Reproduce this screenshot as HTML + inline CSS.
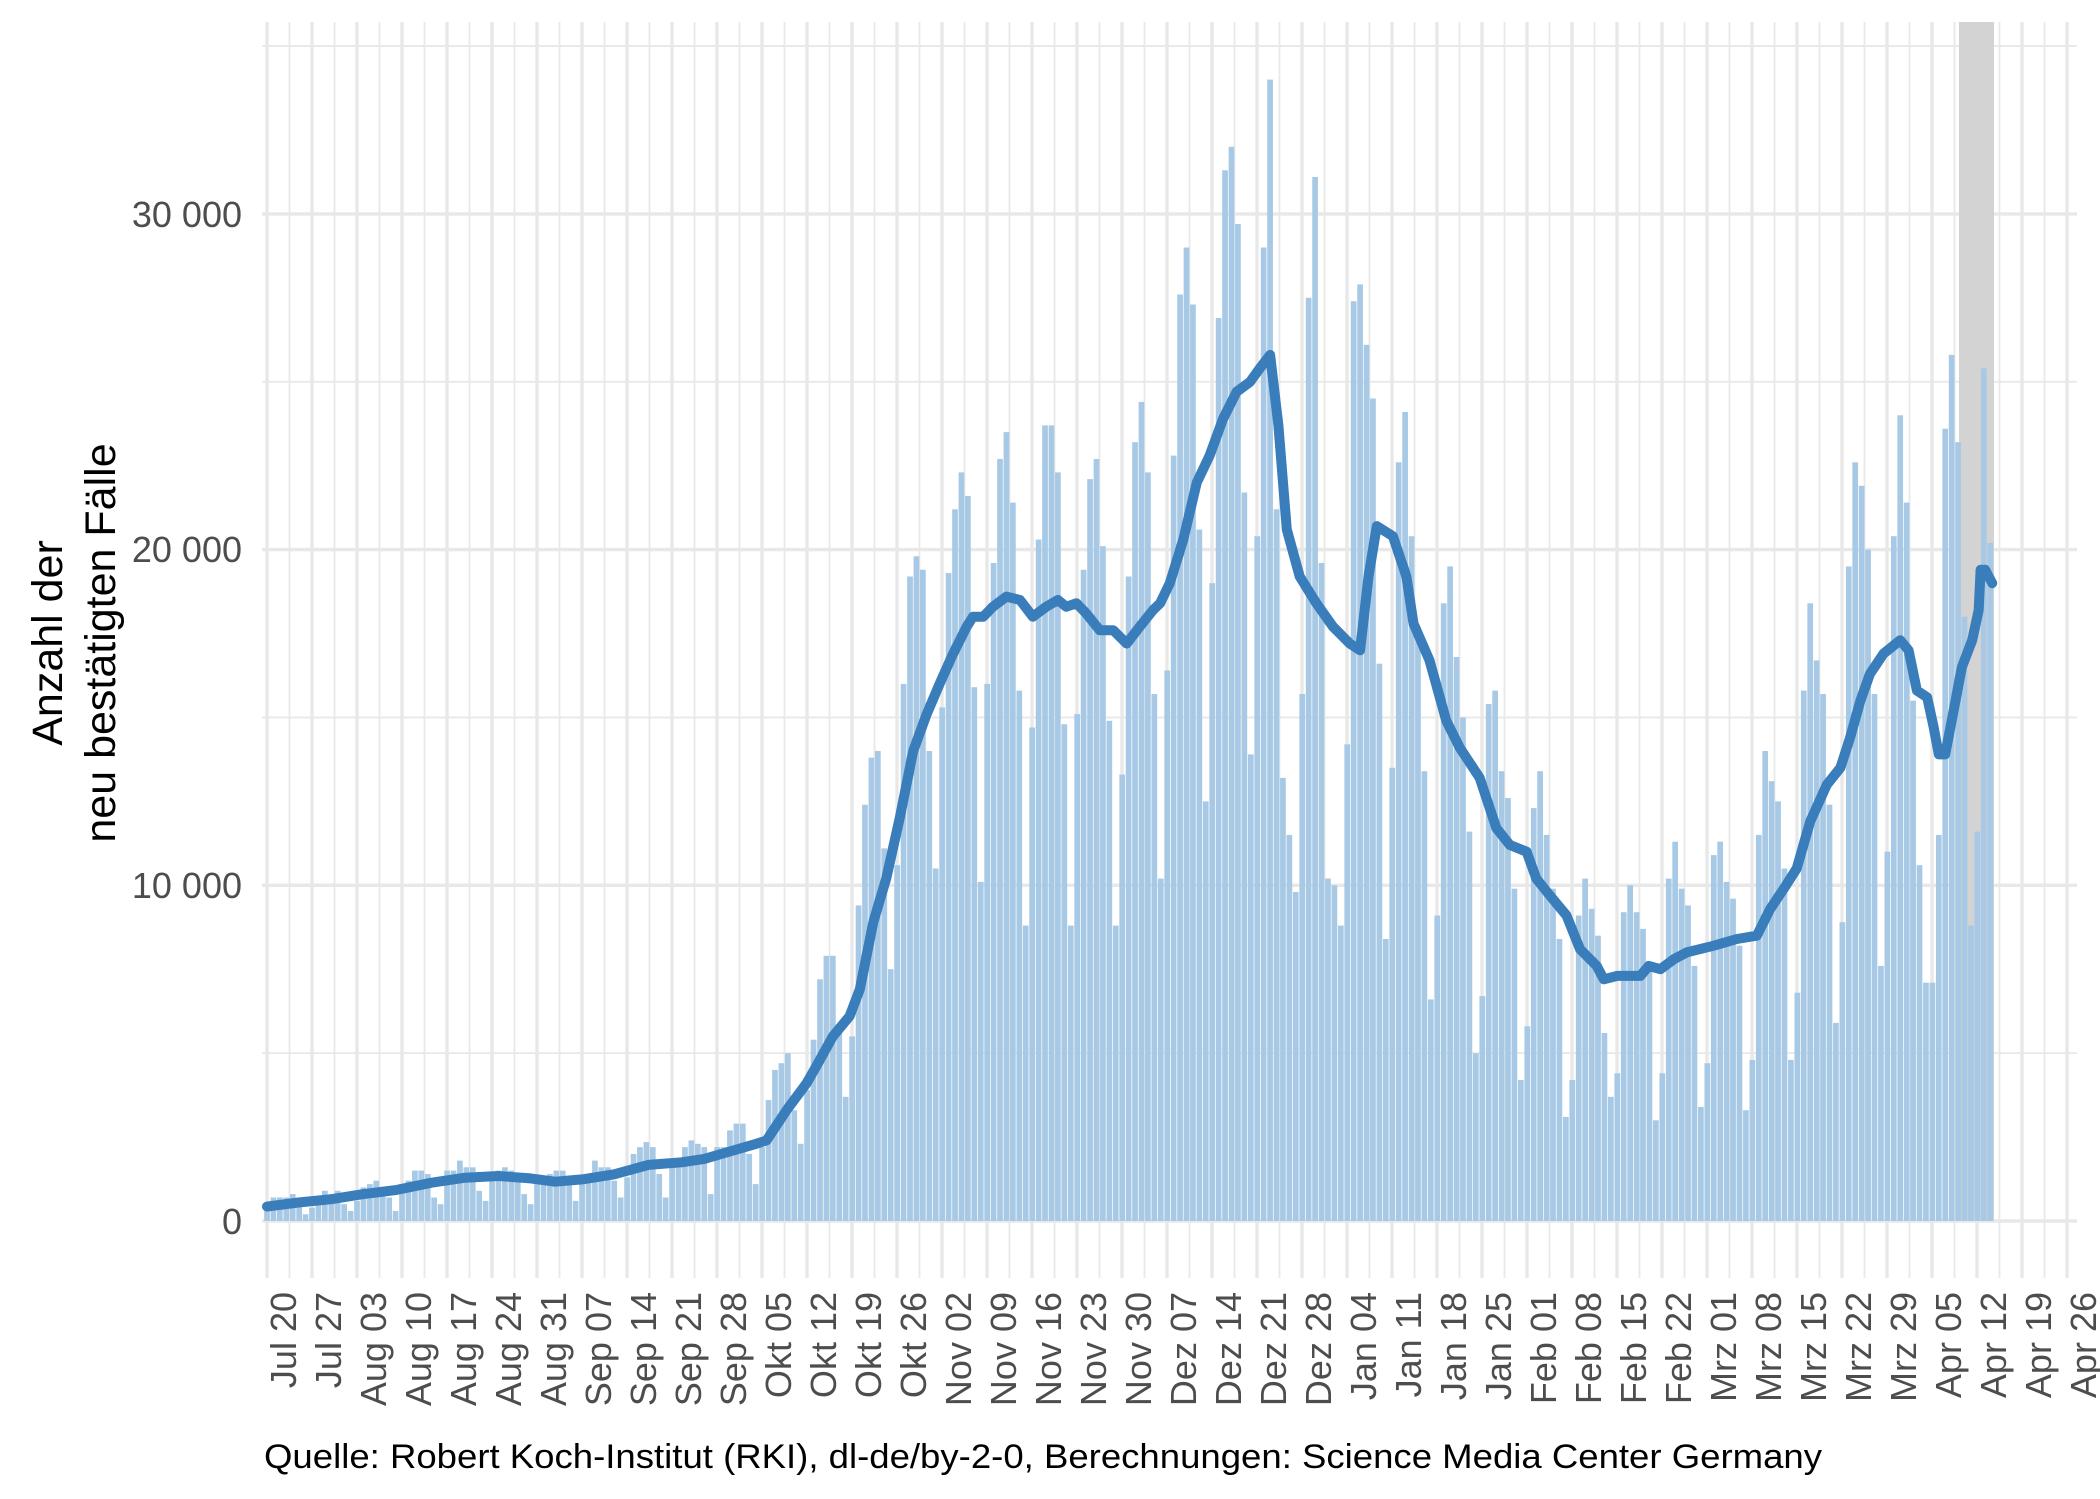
<!DOCTYPE html>
<html><head><meta charset="utf-8"><style>
html,body{margin:0;padding:0;background:#fff;}
svg{display:block;}
</style></head><body>
<svg id="s" xmlns="http://www.w3.org/2000/svg" width="2100" height="1499" viewBox="0 0 2100 1499">
<rect x="0" y="0" width="2100" height="1499" fill="#fff"/>
<g id="grid"></g>
<rect x="1959" y="22" width="35" height="1199" fill="#d3d3d3"/>
<g id="bars" fill="#a7c9e5"></g>
<path id="ln" fill="none" stroke="#3a7dbb" stroke-width="10" stroke-linejoin="round" stroke-linecap="round"/>
<g font-family="Liberation Sans, sans-serif" font-size="36" fill="#4d4d4d" text-anchor="end">
<text x="242" y="1234">0</text>
<text x="242" y="898">10 000</text>
<text x="242" y="562">20 000</text>
<text x="242" y="227">30 000</text>
</g>
<g id="xl" font-family="Liberation Sans, sans-serif" font-size="36" fill="#4d4d4d" text-anchor="end"></g>
<g font-family="Liberation Sans, sans-serif" font-size="43" fill="#000" text-anchor="middle">
<text transform="translate(62,643) rotate(-90)">Anzahl der</text>
<text transform="translate(115,643) rotate(-90)">neu bestätigten Fälle</text>
</g>
<text x="264" y="1468" font-family="Liberation Sans, sans-serif" font-size="34" fill="#000" textLength="1558" lengthAdjust="spacingAndGlyphs">Quelle: Robert Koch-Institut (RKI), dl-de/by-2-0, Berechnungen: Science Media Center Germany</text>
</svg>
<script>
var NS="http://www.w3.org/2000/svg";
function el(t,a,p){var e=document.createElementNS(NS,t);for(var k in a)e.setAttribute(k,a[k]);p.appendChild(e);return e;}
var X0=267,DX=6.43,Y0=1221,SY=33.57;
function X(d){return X0+d*DX;} function Y(v){return Y0-v*SY;}
var g=document.getElementById('grid');
for(var i=0;i<=7;i++){var v=i*5;var maj=(i%2==0);
 el('line',{x1:262,x2:2077,y1:Y(v),y2:Y(v),stroke:'#e8e8e8','stroke-width':maj?3.4:1.8},g);}
for(var k=0;k<=40;k++){var x=X0+45*k;
 el('line',{x1:x,x2:x,y1:22,y2:1278,stroke:'#e8e8e8','stroke-width':3.4},g);
 if(k<40) el('line',{x1:x+22.5,x2:x+22.5,y1:22,y2:1278,stroke:'#e8e8e8','stroke-width':1.8},g);}
var vals=[0.3,0.7,0.7,0.7,0.8,0.5,0.2, 0.4,0.5,0.9,0.8,0.9,0.5,0.3, 0.6,1.0,1.1,1.2,1.0,0.7,0.3, 1.1,1.2,1.5,1.5,1.4,0.7,0.5, 1.5,1.5,1.8,1.6,1.6,0.9,0.6, 1.3,1.5,1.6,1.5,1.3,0.8,0.5, 1.3,1.3,1.4,1.5,1.5,1.2,0.6, 1.3,1.4,1.8,1.6,1.6,1.2,0.7, 1.3,2.0,2.2,2.35,2.2,1.4,0.7, 1.7,1.6,2.2,2.4,2.3,
2.2,0.8,2.2,2.2,2.7,2.9,2.9,2.0,1.1,2.2,3.6,4.5,4.7,5.0,3.3,2.3,3.9,5.4,7.2,7.9,7.9,5.7,3.7,5.5,9.4,12.4,13.8,14.0,11.1,7.5,10.6,16.0,19.2,19.8,19.4,14.0,10.5,15.3,19.3,21.2,22.3,21.6,15.9,10.1,16.0,19.6,22.7,23.5,21.4,15.8,8.8,14.7,20.3,23.7,23.7,22.3,14.8,8.8,15.1,19.4,22.1,22.7,20.1,14.9,8.8,13.3,19.2,23.2,24.4,22.3,
15.7,10.2,16.4,22.8,27.6,29.0,27.3,20.6,12.5,19.0,26.9,31.3,32.0,29.7,21.7,13.9,20.4,29.0,34.0,21.2,13.2,11.5,9.8,15.7,27.5,31.1,19.6,10.2,10.0,8.8,14.2,27.4,27.9,26.1,24.5,16.6,8.4,13.5,22.6,24.1,20.4,17.7,13.4,6.6,9.1,18.4,19.5,16.8,15.0,11.6,5.0,6.7,15.4,15.8,13.4,12.6,9.9,4.2,5.8,12.3,13.4,11.5,9.9,8.4,3.1,4.2,9.1,10.2,9.3,8.5,
5.6,3.7,4.4,9.2,10.0,9.2,8.7,7.7,3.0,4.4,10.2,11.3,9.9,9.4,7.6,3.4,4.7,10.9,11.3,10.1,9.6,8.2,3.3,4.8,11.5,14.0,13.1,12.5,10.5,4.8,6.8,15.8,18.4,16.7,15.7,12.4,5.9,8.9,19.5,22.6,21.9,20.0,15.7,7.6,11.0,20.4,24.0,21.4,15.5,10.6,7.1,7.1,11.5,23.6,25.8,23.2,18.0,8.8,11.6,25.4,20.2];
var b=document.getElementById('bars');
for(var d=0;d<vals.length;d++){var y=Y(vals[d]);
 el('rect',{x:(X(d)-2.85).toFixed(2),y:y.toFixed(1),width:5.7,height:(Y0-y).toFixed(1)},b);}
var L=[[0,0.43],[4.9,0.55],[10,0.65],[15,0.8],[20,0.92],[25.6,1.14],[30.8,1.29],[36,1.34],[41,1.27],[44.8,1.17],[49,1.24],[54,1.39],[59.3,1.67],[64.5,1.75],[68,1.85],
[72.5,2.1],[76.1,2.3],[77.7,2.4],[80.8,3.3],[83.9,4.1],[85.4,4.6],[88,5.5],[90.6,6.1],[92.2,6.9],[94.3,8.9],[96.3,10.2],[98.4,12.0],[100.5,14.0],[102.6,15.1],[104.6,16.0],[106.7,16.9],[108.8,17.7],[109.8,18.0],[111.4,18.0],[112.9,18.3],[115,18.6],[117.1,18.5],[119.1,18.0],[121.2,18.3],[123,18.5],[124.3,18.3],[125.9,18.4],[127.4,18.1],[129.5,17.6],[131.6,17.6],[133.7,17.2],[135.7,17.7],[137.8,18.2],
[138.9,18.4],[140.4,19.0],[142.5,20.3],[144.6,22.0],[146.6,22.8],[148.7,23.9],[150.8,24.7],[152.9,25.0],[154.4,25.4],[156,25.8],[157.3,23.7],[158.6,20.6],[160.6,19.2],[163.2,18.4],[165.8,17.7],[168.4,17.2],[170,17.0],[171.3,19.2],[172.6,20.7],[175.1,20.4],[177.2,19.2],[178.3,17.8],[180.8,16.7],[183.4,14.9],[185.5,14.1],[188.6,13.2],[191.2,11.7],[193.3,11.2],[195.9,11.0],[197.4,10.2],[199.5,9.7],[202.1,9.1],[204.2,8.1],[206.8,7.6],
[207.9,7.2],[210,7.3],[213.6,7.3],[214.9,7.6],[216.7,7.5],[218.8,7.8],[220.8,8.0],[225,8.2],[228.6,8.4],[231.7,8.5],[233.8,9.3],[235.9,9.9],[237.9,10.5],[240,11.9],[242.6,13.0],[244.7,13.5],[246.2,14.4],[247.8,15.5],[249.3,16.3],[251.4,16.9],[254,17.3],[255.3,17.0],[256.6,15.8],[258.2,15.6],[259.2,14.7],[260,13.9],[261,13.9],[262.3,15.2],[263.6,16.5],[265.2,17.3],[266.2,18.2],[266.5,19.4],[267.2,19.4],[268.3,19.0]];
var p='';for(var i=0;i<L.length;i++){p+=(i?'L':'M')+X(L[i][0]).toFixed(1)+','+Y(L[i][1]).toFixed(1);}
document.getElementById('ln').setAttribute('d',p);
var labs=['Jul 20','Jul 27','Aug 03','Aug 10','Aug 17','Aug 24','Aug 31','Sep 07','Sep 14','Sep 21','Sep 28','Okt 05','Okt 12','Okt 19','Okt 26','Nov 02','Nov 09','Nov 16','Nov 23','Nov 30','Dez 07','Dez 14','Dez 21','Dez 28','Jan 04','Jan 11','Jan 18','Jan 25','Feb 01','Feb 08','Feb 15','Feb 22','Mrz 01','Mrz 08','Mrz 15','Mrz 22','Mrz 29','Apr 05','Apr 12','Apr 19','Apr 26'];
var xl=document.getElementById('xl');
for(var k=0;k<labs.length;k++){var t=el('text',{transform:'translate('+(X0+45*k+29)+',1292) rotate(-90)'},xl);t.textContent=labs[k];}
</script>
</body></html>
